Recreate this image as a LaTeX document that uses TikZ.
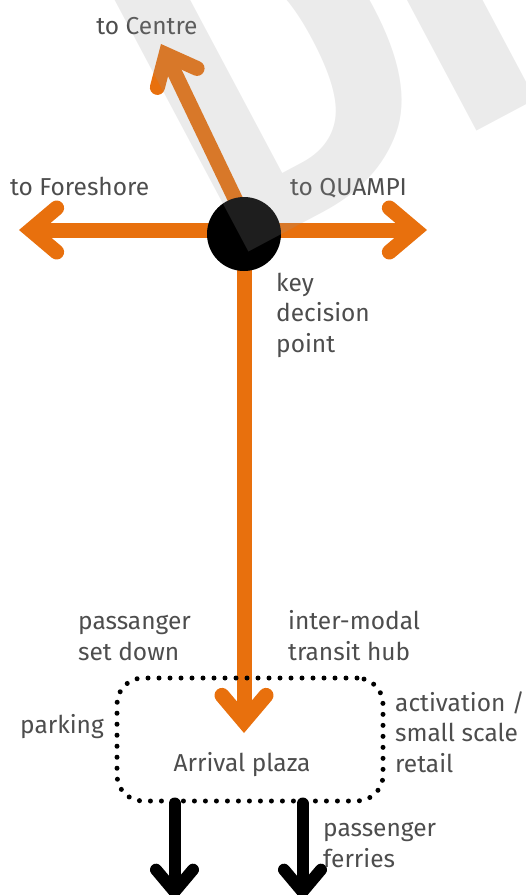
\documentclass[tikz,border=0pt]{standalone}
\usepackage{fontspec}
\setmainfont{Fira Sans}
\usetikzlibrary{arrows.meta,positioning}
\definecolor{routeorange}{RGB}{232,112,13}
\definecolor{labelgrey}{RGB}{77,77,77}

\begin{document}
\begin{tikzpicture}[x=1pt, y=-1pt,
    lbl/.style={text=labelgrey, font=\fontsize{24.5}{30.5}\selectfont, align=left, inner sep=0pt},
    route/.style={draw=routeorange, line width=15pt, -{Straight Barb[length=26pt, width=44pt, line cap=round]}},
    exitarrow/.style={draw=black, line width=12pt, line cap=round, -{Straight Barb[length=22pt, width=37pt, line cap=round]}},
    plazabox/.style={draw, line width=5pt, dash pattern=on 0pt off 11pt, line cap=round, rounded corners=26pt, minimum width=266pt, minimum height=123pt, inner sep=0pt}]
                \clip (0,0) rectangle (526,895);
                \coordinate (hub) at (244,230);
                \coordinate (hubc) at (250,230);
                \coordinate (foreshore) at (19,230);
                \coordinate (quampi) at (427,230);
                \coordinate (centre) at (161,44);
                \coordinate (arrival) at (244,733);

                \draw[route] (hub) -- (foreshore);
                \draw[route] (hub) -- (quampi);
                \draw[route] (hubc) -- (centre);
                \draw[route] (hub) -- (arrival);
                \node[circle, fill=black, minimum size=74pt, inner sep=0pt] (keypt) at (244,234) {};

                \node[plazabox] (plaza) at (250,739.5) {};
                \coordinate (ferryA) at (174.5,901);
                \coordinate (ferryB) at (302.5,901);
                \draw[exitarrow] ([xshift=-75.5pt]plaza.south) -- (ferryA);
                \draw[exitarrow] ([xshift=52.5pt]plaza.south) -- (ferryB);

                \node[lbl, anchor=base] (tocentre) at (147,34) {to Centre};
                \node[lbl, anchor=base west] (toforeshore) at (10,195) {to Foreshore};
                \node[lbl, anchor=base west] (toquampi) at (290,195) {to QUAMPI};
                \node[lbl, anchor=base west] (decision) at (276,352) {key\\decision\\point};
                \node[lbl, anchor=base west] (setdown) at (78,660) {passanger\\set down};
                \node[lbl, anchor=base west] (transit) at (288,660) {inter-modal\\transit hub};
                \node[lbl, anchor=base west] (parking) at (20,733) {parking};
                \node[lbl, anchor=base west] (retail) at (395,772) {activation /\\small scale\\retail};
                \node[lbl, anchor=base] (plazatxt) at (242,771) {Arrival plaza};
                \node[lbl, anchor=base west] (ferries) at (323,867) {passenger\\ferries};

                \begin{scope}[transparency group, opacity=0.2]
                \node[anchor=base west, rotate=28, xscale=0.905, inner sep=0pt, text=black!40,
                    font=\fontsize{450}{450}\selectfont\bfseries] (draftmark) at (225.5,265) {D\kern-8pt RAFT};
                \end{scope}
            \end{tikzpicture}
\end{document}
